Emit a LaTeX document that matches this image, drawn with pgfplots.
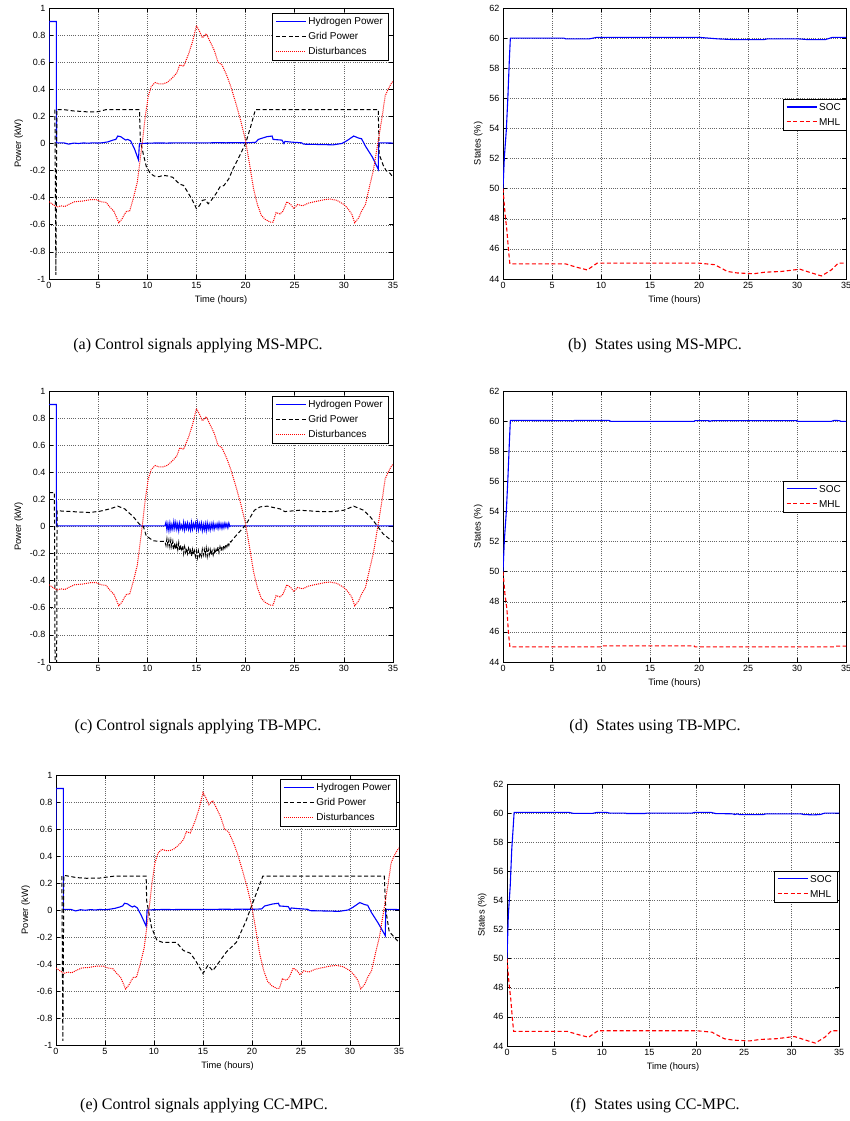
\documentclass[border=0pt]{standalone}
\usepackage{fontspec}
\setmainfont{Liberation Sans}
\newfontfamily\capfont{Liberation Serif}
\usepackage{pgfplots}
\usepackage{pgfplotstable}
\pgfplotsset{compat=1.18}

\pgfplotstableread{
t v
0 -0.43
0.4 -0.45
0.8 -0.47
1.2 -0.46
1.6 -0.465
2 -0.45
2.6 -0.43
3.4 -0.425
4.2 -0.415
4.8 -0.415
5.3 -0.43
5.8 -0.435
6.2 -0.47
6.6 -0.5
6.9 -0.55
7.1 -0.585
7.4 -0.56
7.7 -0.52
7.9 -0.5
8.2 -0.5
8.6 -0.4
9 -0.28
9.4 -0.05
9.8 0.2
10.1 0.35
10.4 0.42
10.8 0.45
11.2 0.44
11.6 0.44
12 0.45
12.5 0.48
13 0.52
13.3 0.58
13.7 0.57
14.2 0.66
14.6 0.75
15 0.87
15.3 0.83
15.6 0.78
16 0.81
16.4 0.75
16.8 0.69
17.2 0.6
17.6 0.58
18.1 0.5
18.5 0.42
19 0.3
19.5 0.17
20 0.02
20.4 -0.15
20.8 -0.33
21.2 -0.45
21.6 -0.53
22 -0.56
22.5 -0.58
22.8 -0.58
23.1 -0.51
23.5 -0.52
23.8 -0.5
24.2 -0.43
24.6 -0.45
24.9 -0.48
25.3 -0.45
25.8 -0.46
26.4 -0.44
27 -0.43
28 -0.415
28.6 -0.41
29.3 -0.42
30 -0.45
30.4 -0.48
30.8 -0.52
31.1 -0.585
31.5 -0.55
31.8 -0.5
32.2 -0.45
32.6 -0.32
33 -0.2
33.5 0.02
33.9 0.2
34.2 0.35
34.5 0.4
34.8 0.44
35 0.46
}\dist

\pgfplotstableread{
t v
0 0.6
0.02 0.9
0.75 0.9
0.76 0.005
1.5 0.005
2 -0.005
2.5 0.003
3 0
3.5 0.004
4 0.002
4.5 0.005
5 0.003
5.5 0.006
6 0.012
6.5 0.025
6.8 0.03
7 0.055
7.3 0.05
7.6 0.035
7.8 0.025
8 0.03
8.3 0.02
8.7 -0.04
9.1 -0.12
9.2 0.0
10 0.002
11 0.004
12 0.003
13 0.005
14 0.004
15 0.005
16 0.004
17 0.006
18 0.005
19 0.006
20 0.005
21 0.008
21.3 0.03
22.15 0.05
22.7 0.055
22.8 0.03
23.7 0.025
23.9 0.0
24 0.015
24.7 0.01
25.7 0.005
25.9 -0.005
27.8 -0.008
28.9 -0.01
29.8 0.0
30.3 0.02
31 0.055
31.5 0.04
31.8 0.035
32.2 -0.02
32.9 -0.1
33.5 -0.19
33.55 0.005
35 0.003
}\hydA

\pgfplotstableread{
t v
0.6 0.25
0.7 -0.97
0.8 0.25
1.5 0.25
2 0.245
2.5 0.24
3 0.238
4 0.233
4.8 0.233
5.3 0.24
5.8 0.25
9.2 0.25
9.3 0.02
9.6 -0.08
9.9 -0.17
10.3 -0.22
10.7 -0.24
11.2 -0.245
11.6 -0.235
12.1 -0.24
12.6 -0.25
13 -0.28
13.3 -0.3
13.7 -0.31
14.2 -0.37
14.6 -0.42
15 -0.48
15.3 -0.46
15.6 -0.42
15.9 -0.415
16.2 -0.445
16.5 -0.42
17 -0.37
17.4 -0.32
17.8 -0.31
18.3 -0.26
18.7 -0.19
19.2 -0.12
19.6 -0.06
20 0.0
20.5 0.12
21 0.25
33.5 0.25
33.6 -0.08
34 -0.16
34.3 -0.2
34.7 -0.22
35 -0.25
}\gridA

\pgfplotstableread{
t v
0 0.9
0.75 0.9
0.76 0.005
11.8 0.005
11.9 0.03
12.0 -0.025
12.1 0.02
12.2 -0.03
12.3 0.025
12.4 -0.025
12.5 0.015
12.6 -0.02
12.7 0.035
12.8 -0.015
12.9 0.03
13.0 -0.02
13.1 0.02
13.2 -0.03
13.3 0.025
13.4 -0.015
13.5 0.01
13.6 -0.02
13.7 0.03
13.8 -0.025
13.9 0.02
14.0 -0.015
14.1 0.025
14.2 -0.02
14.3 0.015
14.4 -0.025
14.5 0.03
14.6 -0.02
14.7 0.02
14.8 -0.01
14.9 0.025
15.0 -0.02
15.1 0.03
15.2 -0.025
15.3 0.02
15.4 -0.015
15.5 0.025
15.6 -0.03
15.7 0.015
15.8 -0.025
15.9 0.02
16.0 -0.03
16.1 0.025
16.2 -0.02
16.3 0.015
16.4 -0.025
16.5 0.02
16.6 -0.015
16.7 0.025
16.8 -0.02
16.9 0.015
17.0 -0.01
17.1 0.02
17.2 -0.015
17.3 0.025
17.4 -0.01
17.5 0.02
17.6 -0.015
17.7 0.02
17.8 -0.01
17.9 0.025
18.0 -0.005
18.1 0.02
18.2 -0.01
18.3 0.025
18.4 0.0
18.5 0.005
35 0.005
}\hydC

\pgfplotstableread{
t v
0 0.25
0.55 0.25
0.62 -1.1
0.78 -1.1
0.82 0.116
2.8 0.108
4.1 0.103
5.2 0.113
6.2 0.13
7.0 0.15
7.7 0.13
8.6 0.07
9.2 0.017
9.6 0.0
9.9 -0.07
10.6 -0.105
11.2 -0.11
11.8 -0.11
11.9 -0.14
12.0 -0.09
12.1 -0.14
12.2 -0.10
12.3 -0.15
12.4 -0.10
12.5 -0.15
12.6 -0.11
12.7 -0.17
12.8 -0.12
12.9 -0.17
13.0 -0.13
13.1 -0.17
13.2 -0.12
13.3 -0.18
13.4 -0.14
13.5 -0.17
13.6 -0.14
13.7 -0.20
13.8 -0.15
13.9 -0.19
14.0 -0.16
14.1 -0.20
14.2 -0.16
14.3 -0.19
14.4 -0.16
14.5 -0.22
14.6 -0.17
14.7 -0.21
14.8 -0.18
14.9 -0.22
15.0 -0.18
15.1 -0.23
15.2 -0.18
15.3 -0.22
15.4 -0.19
15.5 -0.22
15.6 -0.17
15.7 -0.21
15.8 -0.17
15.9 -0.21
16.0 -0.16
16.1 -0.22
16.2 -0.17
16.3 -0.21
16.4 -0.17
16.5 -0.21
16.6 -0.18
16.7 -0.21
16.8 -0.17
16.9 -0.20
17.0 -0.17
17.1 -0.19
17.2 -0.15
17.3 -0.19
17.4 -0.15
17.5 -0.18
17.6 -0.15
17.7 -0.17
17.8 -0.14
17.9 -0.16
18.0 -0.13
18.1 -0.15
18.2 -0.12
18.3 -0.14
18.4 -0.11
18.5 -0.115
18.75 -0.09
20 0.01
20.9 0.12
21.5 0.145
22.2 0.15
23.5 0.13
24 0.11
25.5 0.12
27.6 0.11
28.9 0.11
30 0.12
31 0.15
32 0.12
32.7 0.07
33.4 0.005
34 -0.055
35 -0.113
}\gridC

\pgfplotstableread{
t v
0 0.6
0.02 0.9
0.75 0.9
0.76 0.005
1.5 0.005
2 -0.007
2.5 0.002
3 -0.002
3.5 0.003
4 0.0
4.5 0.004
5 0.002
5.5 0.006
6 0.012
6.5 0.022
6.8 0.03
7 0.05
7.3 0.045
7.6 0.03
7.8 0.022
8 0.03
8.3 0.015
8.7 -0.04
9.2 -0.12
9.3 0.0
10 0.002
11 0.004
12 0.003
13 0.005
14 0.004
15 0.005
16 0.004
17 0.006
18 0.005
19 0.006
20 0.005
21 0.008
21.3 0.03
22.15 0.045
22.7 0.05
22.8 0.03
23.7 0.025
23.9 0.0
24 0.015
24.7 0.01
25.7 0.005
25.9 -0.005
27.8 -0.008
28.9 -0.01
29.8 0.0
30.3 0.02
31 0.055
31.5 0.04
31.8 0.035
32.2 -0.02
32.9 -0.1
33.6 -0.19
33.65 0.005
35 0.003
}\hydE

\pgfplotstableread{
t v
0.6 0.25
0.7 -0.97
0.8 0.257
2.1 0.24
3.1 0.235
4.5 0.237
5.85 0.25
9.2 0.25
9.25 0.07
9.75 -0.13
10.3 -0.225
10.9 -0.24
12.3 -0.24
13 -0.3
13.7 -0.32
14.2 -0.37
15 -0.47
15.5 -0.41
16 -0.45
17.4 -0.31
18.4 -0.24
19.4 -0.08
19.8 0
21.1 0.25
33.5 0.25
33.65 0
34 -0.16
35 -0.24
}\gridE

\pgfplotstableread{
t v
0 50
0.14 52.1
0.34 53.9
0.5 56.1
0.65 58.6
0.75 60
6.2 60
6.4 59.95
8.8 59.95
9.6 60.05
20 60.05
21.9 59.95
23.5 59.9
26.6 59.9
27 59.95
30.1 59.95
31.1 59.9
32.9 59.9
33.6 60.05
35 60.05
}\socB

\pgfplotstableread{
t v
0 50
0.2 48.4
0.4 47.2
0.55 46
0.7 45
6.4 45
7.4 44.8
8.6 44.6
9.6 45.05
20 45.05
21.6 44.95
22.9 44.5
23.9 44.4
25.6 44.35
26.7 44.45
28.4 44.5
30.3 44.65
31.5 44.4
32.5 44.2
33.5 44.6
34.2 45.05
35 45.05
}\mhlB

\pgfplotstableread{
t v
0 50
0.14 52.1
0.34 54
0.5 56.2
0.65 58.6
0.75 60.05
7 60.03
7.1 60.0
7.3 60.05
10.8 60.05
11 59.98
19.5 59.98
19.6 60.03
21 60.03
21.1 59.98
21.3 60.03
30 60.03
30.1 59.98
33.5 59.98
33.8 60.05
34.3 60.03
34.5 59.98
35 59.98
}\socD

\pgfplotstableread{
t v
0 50
0.2 48.5
0.4 47.5
0.55 46
0.7 45
10 45
10.1 45.07
19.5 45.07
19.6 45.0
33.8 45.0
33.9 45.05
35 45.05
}\mhlD

\pgfplotstableread{
t v
0 50
0.14 53
0.34 55
0.5 57.5
0.65 59
0.75 60.05
6.5 60.05
7 59.98
9 59.98
9.5 60.05
10.5 60.05
10.8 60.0
12.5 60.0
12.6 59.97
14.5 59.97
14.7 60.0
19.5 60.0
19.8 60.05
21.5 60.05
22 59.97
23.8 59.95
24 59.9
24.3 59.95
24.5 59.9
27 59.9
27.3 59.95
31 59.95
31.3 59.9
32.3 59.88
33 59.9
33.5 60.0
35 60.0
}\socF

\pgfplotsset{
  matax/.style={
    scale only axis,
    xmin=0, xmax=35, xtick={0,5,10,15,20,25,30,35},
    grid=major,
    major grid style={black!60, dash pattern=on 1pt off 1.2pt, line width=0.5pt},
    tick align=inside, major tick length=4pt,
    tick style={black, line width=0.6pt},
    axis line style={line width=0.8pt},
    /pgf/number format/assume math mode=true,
    tick label style={font=\fontsize{9}{10}\selectfont},
    label style={font=\fontsize{9.3}{10}\selectfont},
    legend style={font=\fontsize{10}{12}\selectfont,
      inner xsep=3pt, inner ysep=2pt, row sep=2.5pt},
    legend cell align=left,
    legend image code/.code={\draw[#1] (0pt,0.5pt) -- (30pt,0.5pt);},
  },
  powax/.style={matax,
    ymin=-1, ymax=1,
    ytick={-1,-0.8,-0.6,-0.4,-0.2,0,0.2,0.4,0.6,0.8,1},
    yticklabels={-1,-0.8,-0.6,-0.4,-0.2,0,0.2,0.4,0.6,0.8,1},
    ylabel={Power (kW)},
    legend style={at={(1,1)}, anchor=north east, xshift=-5pt, yshift=-5pt},
  },
  stax/.style={matax,
    ymin=44, ymax=62, ytick={44,46,48,50,52,54,56,58,60,62},
    ylabel={States (\%)}, xlabel={Time (hours)},
  },
}

\begin{document}
\begin{tikzpicture}[x=1pt,y=1pt]
\path[use as bounding box] (0,0) rectangle (849,1121);

% (a)
\begin{axis}[powax, at={(49pt,842pt)}, anchor=south west, width=344pt, height=271pt, xlabel={Time (hours)}]
\addplot[blue, line width=1.1pt] table[x=t,y=v] {\hydA};
\addplot[black, line width=1.0pt, dash pattern=on 4pt off 2.5pt] table[x=t,y=v] {\gridA};
\addplot[red, line width=1.0pt, dash pattern=on 1pt off 1pt] table[x=t,y=v] {\dist};
\legend{Hydrogen Power, Grid Power, Disturbances}
\end{axis}

% (b)
\begin{axis}[stax, at={(503pt,842pt)}, anchor=south west, width=343pt, height=271pt,
  legend style={at={(1,0.664)}, anchor=north east}]
\addplot[blue, line width=1.1pt] table[x=t,y=v] {\socB};
\addplot[red, line width=1.1pt, dash pattern=on 4pt off 2.5pt] table[x=t,y=v] {\mhlB};
\legend{SOC, MHL}
\end{axis}

% (c)
\begin{axis}[powax, at={(49pt,459pt)}, anchor=south west, width=344pt, height=271pt]
\addplot[blue, line width=1.1pt] table[x=t,y=v] {\hydC};
\addplot[black, line width=1.0pt, dash pattern=on 4pt off 2.5pt] table[x=t,y=v] {\gridC};
\addplot[red, line width=1.0pt, dash pattern=on 1pt off 1pt] table[x=t,y=v] {\dist};
\legend{Hydrogen Power, Grid Power, Disturbances}
\end{axis}

% (d)
\begin{axis}[stax, at={(503pt,459pt)}, anchor=south west, width=343pt, height=271pt,
  legend style={at={(1,0.668)}, anchor=north east}]
\addplot[blue, line width=1.1pt] table[x=t,y=v] {\socD};
\addplot[red, line width=1.1pt, dash pattern=on 4pt off 2.5pt] table[x=t,y=v] {\mhlD};
\legend{SOC, MHL}
\end{axis}

% (e)
\begin{axis}[powax, at={(56pt,76pt)}, anchor=south west, width=343pt, height=270pt, xlabel={Time (hours)},
  legend style={xshift=2pt, yshift=1pt}]
\addplot[blue, line width=1.1pt] table[x=t,y=v] {\hydE};
\addplot[black, line width=1.0pt, dash pattern=on 4pt off 2.5pt] table[x=t,y=v] {\gridE};
\addplot[red, line width=1.0pt, dash pattern=on 1pt off 1pt] table[x=t,y=v] {\dist};
\legend{Hydrogen Power, Grid Power, Disturbances}
\end{axis}

% (f)
\begin{axis}[stax, at={(507pt,75pt)}, anchor=south west, width=332pt, height=262pt,
  legend style={at={(1,0.668)}, anchor=north east, xshift=-2pt}]
\addplot[blue, line width=1.1pt] table[x=t,y=v] {\socF};
\addplot[red, line width=1.1pt, dash pattern=on 4pt off 2.5pt] table[x=t,y=v] {\mhlB};
\legend{SOC, MHL}
\end{axis}

\node[font=\capfont\fontsize{16}{17}\selectfont] at (198,775) {(a) Control signals applying MS-MPC.};
\node[font=\capfont\fontsize{16}{17}\selectfont] at (655,775) {(b)\ \ States using MS-MPC.};
\node[font=\capfont\fontsize{16}{17}\selectfont] at (198,394) {(c) Control signals applying TB-MPC.};
\node[font=\capfont\fontsize{16}{17}\selectfont] at (655,394) {(d)\ \ States using TB-MPC.};
\node[font=\capfont\fontsize{16}{17}\selectfont] at (204,15) {(e) Control signals applying CC-MPC.};
\node[font=\capfont\fontsize{16}{17}\selectfont] at (655,15) {(f)\ \ States using CC-MPC.};
\end{tikzpicture}
\end{document}
